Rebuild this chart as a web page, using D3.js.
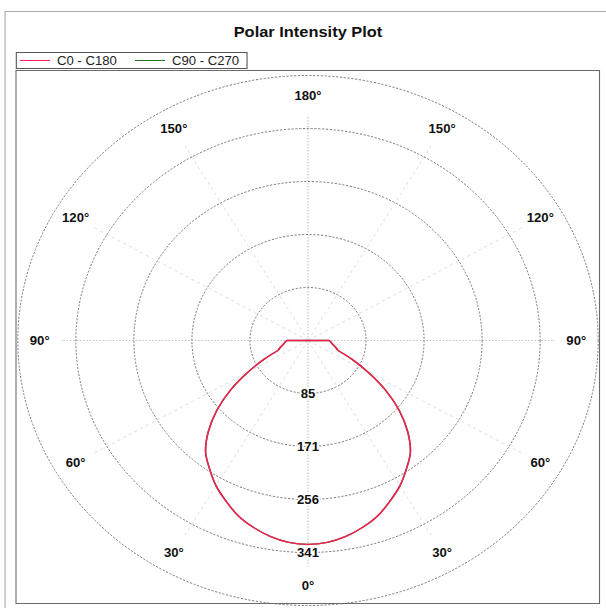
<!DOCTYPE html>
<html><head><meta charset="utf-8">
<script src="https://cdn.jsdelivr.net/npm/d3@7/dist/d3.min.js"></script>
<style>
body{margin:0;background:#fff}
svg{display:block}
text{font-family:"Liberation Sans",Arial,Helvetica,sans-serif}
</style>
</head><body>
<svg id="chart" width="606" height="608"></svg>
<script>
// ---- data ----
const chartTitle = "Polar Intensity Plot";
const seriesNames = ["C0 - C180", "C90 - C270"];
const seriesColors = ["#ff1a55", "#1f7a1f"];
const angles = [0,5,10,15,20,25,30,35,40,45,50,55,60,65,70,75,80,85,90,
                95,100,105,110,115,120,125,130,135,140,145,150,155,160,165,170,175,180];
// intensity (cd) vs. angle from nadir
const c0c180 = [328,326,320,311,300,285,270,252,234,207,175,139,102,71,47,42,37,34,31,
                0,0,0,0,0,0,0,0,0,0,0,0,0,0,0,0,0,0];
const c90c270 = [328,326,320,311,300,285,270,252,234,207,175,139,102,71,47,42,37,34,31,
                 0,0,0,0,0,0,0,0,0,0,0,0,0,0,0,0,0,0];
const ringValues = [85.25, 170.5, 255.75, 341, 426.25];
const ringLabels = ["85", "171", "256", "341"];
const angleTicks = [0, 30, 60, 90, 120, 150, 180];
const spokeAngles = [0, 30, 60, 90, 120, 150, 180, 210, 240, 270, 300, 330];

// ---- layout ----
const sx = 1.095;               // horizontal stretch of the original picture
const cx = 308 / sx, cy = 340.5;
const svg = d3.select("#chart");
svg.append("rect").attr("width", 606).attr("height", 608).attr("fill", "#fff");
const g = svg.append("g").attr("transform", `scale(${sx},1)`);

const r = d3.scaleLinear().domain([0, 426.25]).range([0, 265]);
const toRad = d => d * Math.PI / 180;
const px = (a, v, s = 1) => cx + s * r(v) * Math.sin(toRad(a));
const py = (a, v) => cy + r(v) * Math.cos(toRad(a));

// frames
g.append("rect").attr("x", 4.6).attr("y", 11.5).attr("width", 620).attr("height", 620)
  .attr("fill", "none").attr("stroke", "#a8a8a8").attr("stroke-width", 1);
g.append("rect").attr("x", 14.6).attr("y", 70.5).attr("width", 532.9).attr("height", 533)
  .attr("fill", "none").attr("stroke", "#6a6a6a").attr("stroke-width", 1);

// title
g.append("text").attr("x", cx).attr("y", 37).attr("text-anchor", "middle")
  .attr("font-size", 15).attr("font-weight", "bold").attr("fill", "#111").text(chartTitle);

// legend
const lg = g.append("g");
lg.append("rect").attr("x", 14.9).attr("y", 52.5).attr("width", 210.7).attr("height", 16)
  .attr("fill", "#fff").attr("stroke", "#555");
const legX = [[18.3, 45.7, 52], [123.3, 150.7, 157]];
seriesNames.forEach((n, i) => {
  lg.append("line").attr("x1", legX[i][0]).attr("x2", legX[i][1]).attr("y1", 60.5).attr("y2", 60.5)
    .attr("stroke", seriesColors[i]).attr("stroke-width", 1);
  lg.append("text").attr("x", legX[i][2]).attr("y", 65).attr("font-size", 12)
    .attr("fill", "#222").text(n);
});

// spokes
spokeAngles.forEach(a => {
  const axis = a % 90 === 0;
  g.append("line").attr("x1", cx).attr("y1", cy)
    .attr("x2", px(a, 363)).attr("y2", py(a, 363))
    .attr("stroke", axis ? "#c4c4c4" : "#e4e4e4")
    .attr("stroke-width", 1)
    .attr("stroke-dasharray", axis ? "1.5,1.5" : "3,3");
});

// rings
g.selectAll("circle.ring").data(ringValues).join("circle").attr("class", "ring")
  .attr("cx", cx).attr("cy", cy).attr("r", d => r(d))
  .attr("fill", "none").attr("stroke", "#6e6e6e").attr("stroke-width", 0.9)
  .attr("stroke-dasharray", "2,1.5");

// curves: smooth through the measured lobe, straight where the source plot is straight
const smooth = d3.line().curve(d3.curveCatmullRom.alpha(0.5));
const straight = d3.line();
function drawSeries(vals, color) {
  const lobe = angles.map((a, i) => ({a, v: vals[i]})).filter(d => d.a <= 70);
  const tail = angles.map((a, i) => ({a, v: vals[i]})).filter(d => d.a >= 70);
  const lobePts = lobe.slice().reverse().map(d => [px(d.a, d.v, -1), py(d.a, d.v)])
    .concat(lobe.slice(1).map(d => [px(d.a, d.v, 1), py(d.a, d.v)]));
  const tailPts = tail.map(d => [px(d.a, d.v, 1), py(d.a, d.v)])
    .concat(tail.slice().reverse().map(d => [px(d.a, d.v, -1), py(d.a, d.v)]));
  [smooth(lobePts), straight(tailPts)].forEach(dd => {
    g.append("path").attr("d", dd).attr("fill", "none").attr("stroke", color)
      .attr("stroke-width", 1.4).attr("stroke-linejoin", "round");
  });
}
drawSeries(c90c270, seriesColors[1]);
drawSeries(c0c180, seriesColors[0]);

// ring labels
ringLabels.forEach((t, i) => {
  g.append("text").attr("x", cx).attr("y", py(0, ringValues[i]))
    .attr("dy", "0.36em").attr("text-anchor", "middle")
    .attr("font-size", 12).attr("font-weight", "bold").attr("fill", "#111")
    .attr("stroke", "#fff").attr("stroke-width", 3).attr("paint-order", "stroke")
    .text(t);
});

// angle labels
const R = 245;
angleTicks.forEach(a => {
  const sides = (a === 0 || a === 180) ? [1] : [-1, 1];
  sides.forEach(s => {
    g.append("text")
      .attr("x", cx + s * R * Math.sin(toRad(a)))
      .attr("y", cy + R * Math.cos(toRad(a)))
      .attr("dy", "0.36em").attr("text-anchor", "middle")
      .attr("font-size", 12).attr("font-weight", "bold").attr("fill", "#111")
      .text(a + "°");
  });
});
</script>
</body></html>
